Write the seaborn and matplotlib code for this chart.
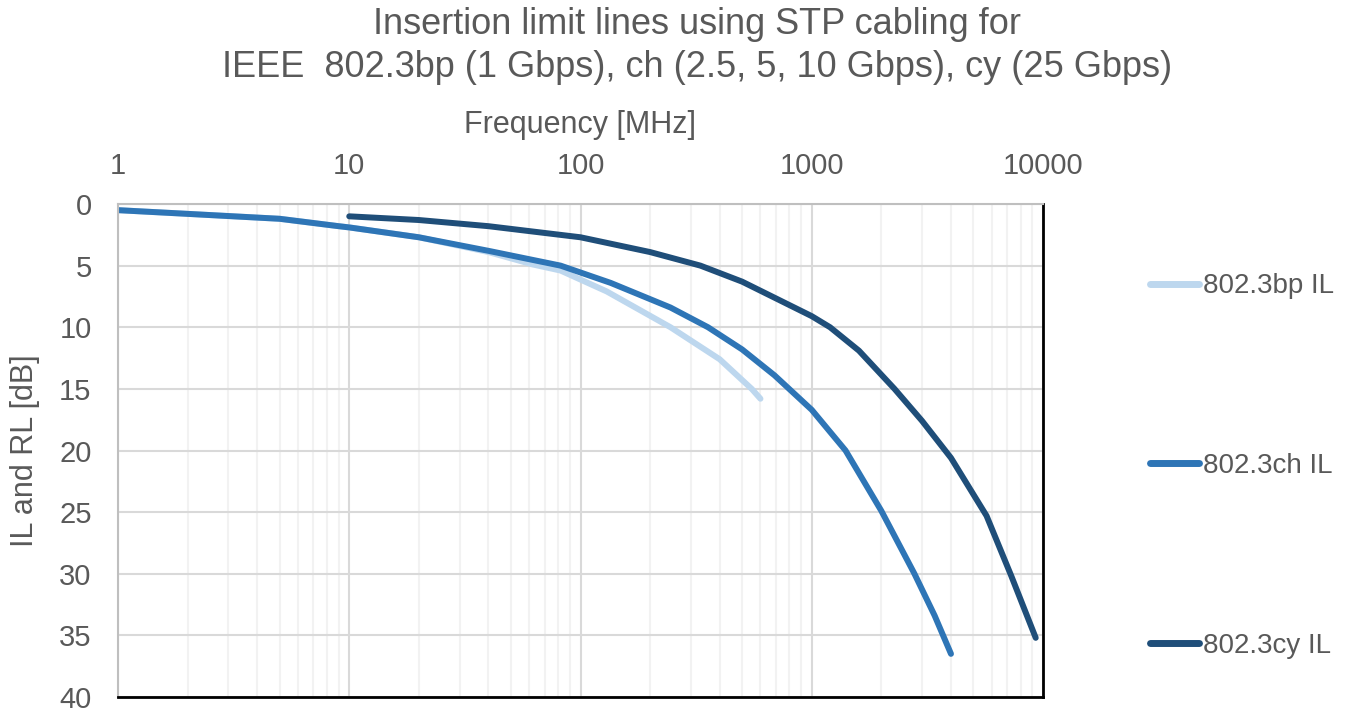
import numpy as np
import pandas as pd
import matplotlib
matplotlib.use('Agg')
import matplotlib.pyplot as plt
from matplotlib.ticker import LogLocator, FixedLocator, NullFormatter
import seaborn as sns

# ── Data ─────────────────────────────────────────────────────────────────────
bp_freq = [1, 2, 5, 9, 10, 20, 40, 62, 82, 130, 245, 400, 550, 600]
bp_il   = [0.5, 0.8, 1.2, 1.8, 1.9, 2.7, 3.9, 4.9, 5.4, 7.1, 10.0, 12.6, 15.0, 15.8]

ch_freq = [1, 2, 5, 9, 10, 20, 40, 82, 135, 245, 356, 500, 690, 1000, 1400, 2000, 2780, 3400, 4000]
ch_il   = [0.5, 0.8, 1.2, 1.8, 1.9, 2.7, 3.8, 5.0, 6.4, 8.4, 10.0, 11.8, 13.9, 16.7, 20.0, 24.9, 30.0, 33.4, 36.5]

cy_freq = [10, 20, 40, 100, 200, 330, 500, 690, 1000, 1200, 1600, 2280, 3000, 4000, 5700, 7300, 9300]
cy_il   = [1.0, 1.3, 1.8, 2.7, 3.9, 5.0, 6.3, 7.6, 9.1, 10.0, 11.9, 15.0, 17.6, 20.6, 25.3, 30.2, 35.2]

series_names = ['802.3bp IL', '802.3ch IL', '802.3cy IL']
x_ticks = [1, 10, 100, 1000, 10000]
y_ticks = [0, 5, 10, 15, 20, 25, 30, 35, 40]

df = pd.concat([
    pd.DataFrame({'freq': bp_freq, 'il': bp_il, 'series': series_names[0]}),
    pd.DataFrame({'freq': ch_freq, 'il': ch_il, 'series': series_names[1]}),
    pd.DataFrame({'freq': cy_freq, 'il': cy_il, 'series': series_names[2]}),
], ignore_index=True)

# ── Style ────────────────────────────────────────────────────────────────────
sns.set_style('white')
plt.rcParams['font.family'] = ['Liberation Sans', 'DejaVu Sans']
text_col = '#595959'
palette = {'802.3bp IL': '#BDD7EE', '802.3ch IL': '#2E75B6', '802.3cy IL': '#1F4E79'}

fig = plt.figure(figsize=(13.65, 7.10), dpi=100)
ax = fig.add_axes([118 / 1365, 1 - 697 / 710, (1043 - 118) / 1365, (697 - 204) / 710])

sns.lineplot(data=df, x='freq', y='il', hue='series', palette=palette,
             sort=False, estimator=None, linewidth=4.3, ax=ax, legend=False)
for ln in ax.lines:
    ln.set_solid_capstyle('round')
    ln.set_solid_joinstyle('round')

# ── Axes ─────────────────────────────────────────────────────────────────────
ax.set_xscale('log')
ax.set_xlim(1, 10000)
ax.set_ylim(40, 0)
ax.xaxis.set_major_locator(FixedLocator(x_ticks))
ax.set_xticklabels([str(t) for t in x_ticks])
ax.xaxis.set_minor_locator(LogLocator(base=10, subs=np.arange(2, 10)))
ax.xaxis.set_minor_formatter(NullFormatter())
ax.set_yticks(y_ticks)
ax.xaxis.tick_top()
ax.xaxis.set_label_position('top')
ax.tick_params(axis='both', which='both', length=0, labelsize=21, colors=text_col)
ax.tick_params(axis='x', pad=17)
ax.tick_params(axis='y', pad=19)

ax.grid(which='major', color='#D9D9D9', linewidth=1.5)
ax.grid(which='minor', axis='x', color='#F2F2F2', linewidth=1.5)
ax.set_axisbelow(True)

for side in ['left', 'top']:
    ax.spines[side].set_color('#BFBFBF')
    ax.spines[side].set_linewidth(1.5)
for side in ['right', 'bottom']:
    ax.spines[side].set_color('black')
    ax.spines[side].set_linewidth(2)

ax.set_xlabel('Frequency [MHz]', fontsize=22, color=text_col, labelpad=14)
ax.set_ylabel('IL and RL [dB]', fontsize=22, color=text_col, labelpad=14)

fig.text(697 / 1365, 1 - 46 / 710,
         'Insertion limit lines using STP cabling for\nIEEE  802.3bp (1 Gbps), ch (2.5, 5, 10 Gbps), cy (25 Gbps)',
         ha='center', va='center', fontsize=26, color=text_col, linespacing=1.27)

# ── Legend (Excel style, entries spread down the right side) ─────────────────
handles = [plt.Line2D([], [], color=palette[n], linewidth=5, solid_capstyle='round')
           for n in series_names]
leg = fig.legend(handles, series_names, loc='center left',
                 bbox_to_anchor=(1150 / 1365, 1 - 466 / 710), frameon=False,
                 fontsize=20, labelspacing=5.53, handlelength=1.75, handletextpad=0.15,
                 labelcolor=text_col, borderpad=0, borderaxespad=0)

fig.savefig('out.png', dpi=100)
